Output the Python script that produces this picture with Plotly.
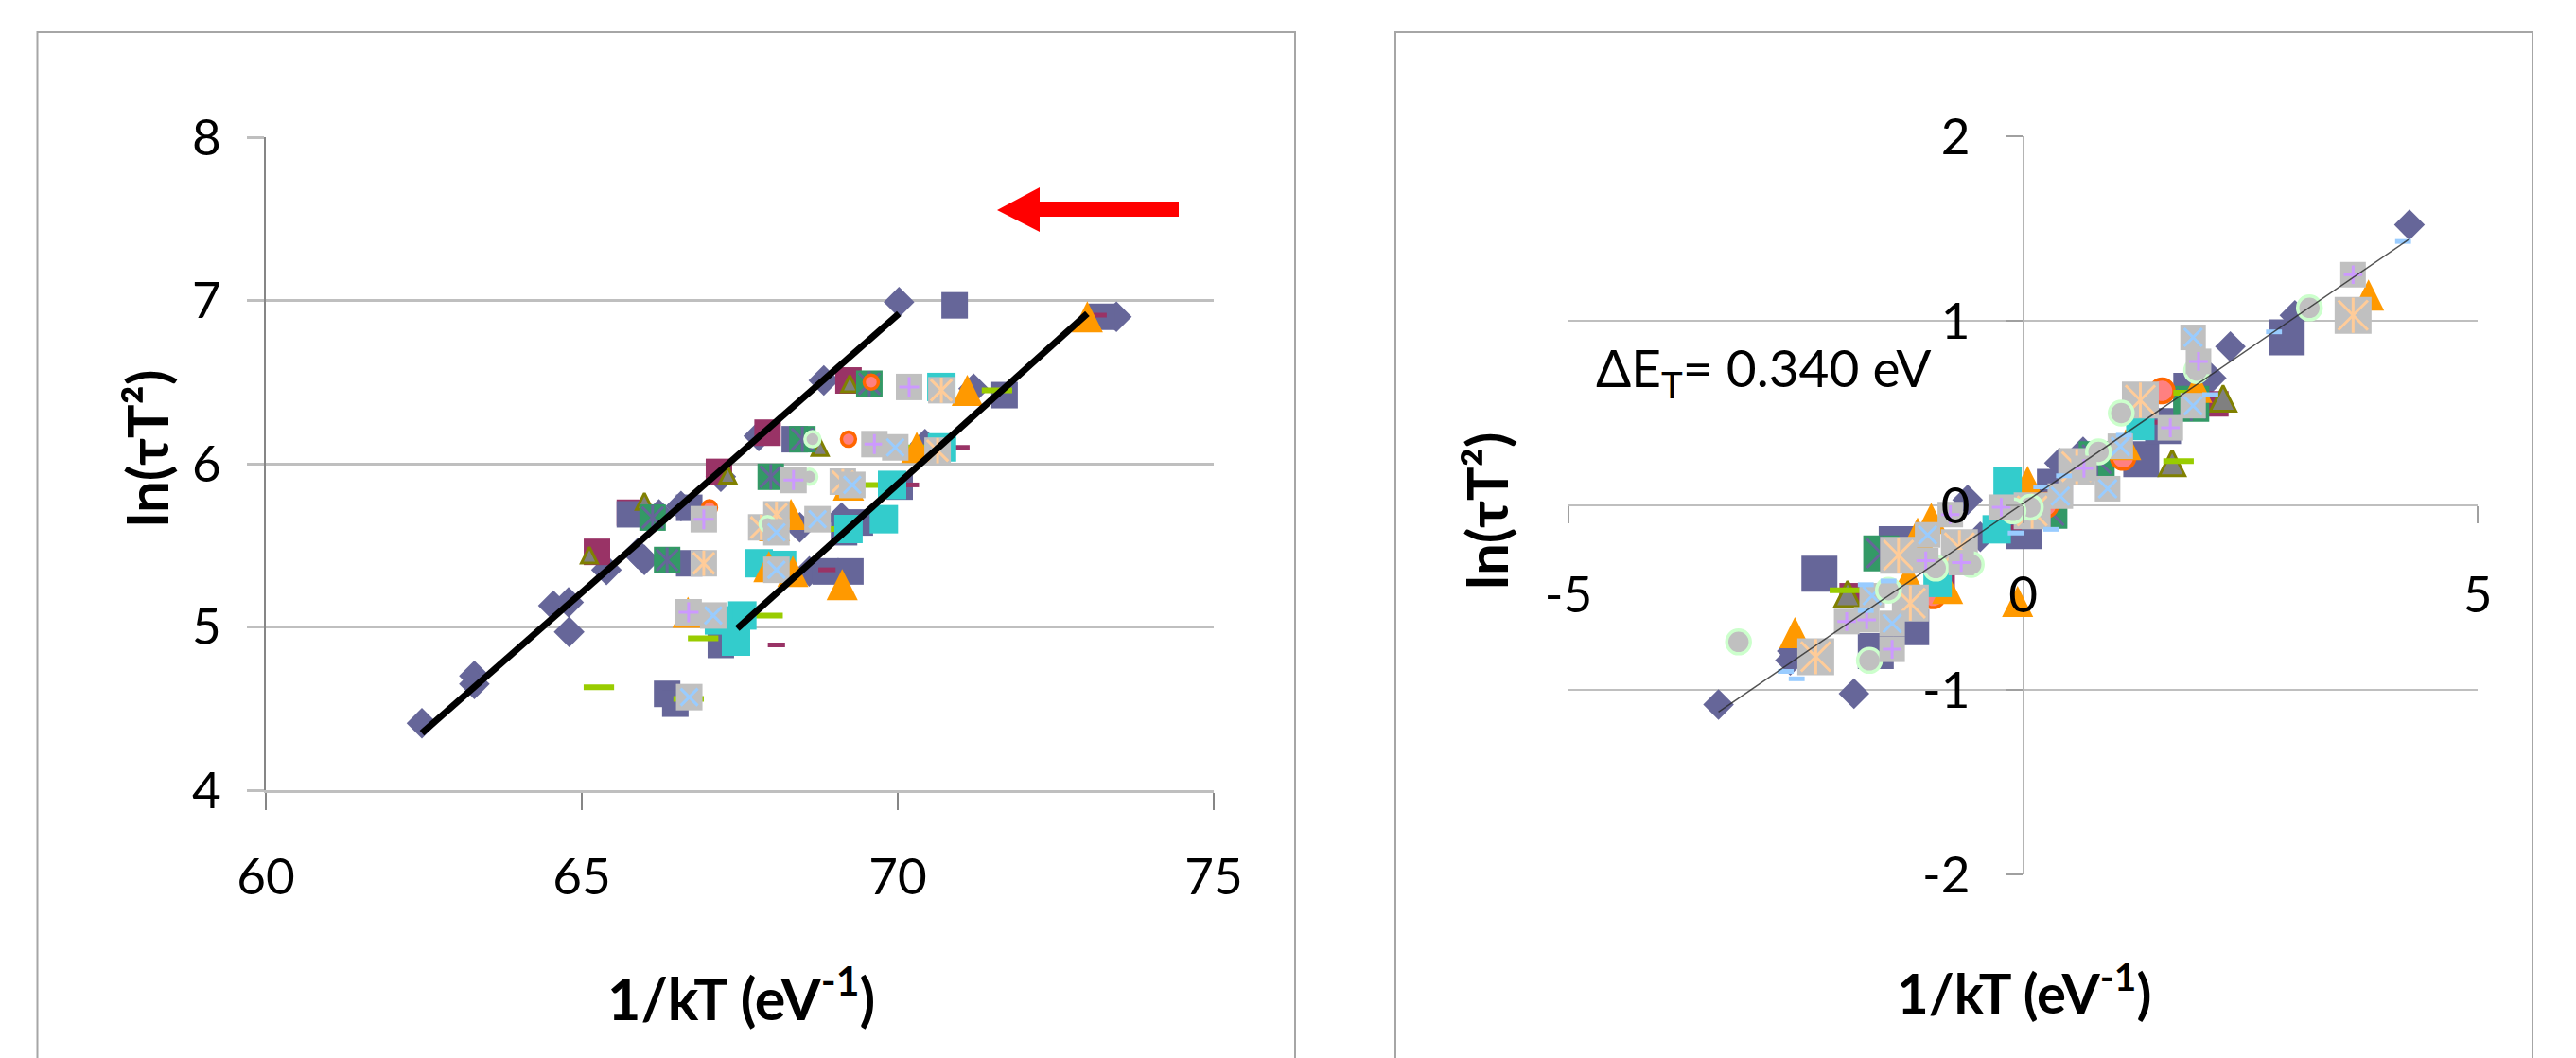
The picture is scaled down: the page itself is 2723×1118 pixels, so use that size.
import plotly.graph_objects as go

W, H = 2723, 1118
FONT = "Lato, Carlito, Calibri, sans-serif"

# ---------- left chart: values ----------
L_DIAMOND_X = [70.02,68.83,67.8,67.2,66.22,66.57,65.88,65.99,65.39,64.55,64.79,64.8,63.3,63.3,62.47,68.45,69.11,70.43,73.46,71.2,68.6]
L_DIAMOND_Y = [6.99,6.51,6.17,5.92,5.69,5.74,5.45,5.41,5.35,5.13,5.15,4.97,4.70,4.65,4.41,5.61,5.67,6.12,6.90,6.46,5.34]
L_NAVY_X = [70.9,73.23,71.69,65.76,66.7,68.37,70.03,69.4,69.15,66.7,68.86,69.25,66.35,66.48,67.2]
L_NAVY_Y = [6.97,6.90,6.42,5.69,5.73,6.15,5.86,5.64,5.58,5.39,5.34,5.34,4.59,4.53,4.89]
L_MAROON_X = [69.22,67.94,67.17,65.76,65.24]
L_MAROON_Y = [6.51,6.19,5.95,5.70,5.46]
L_OLIVE_X = [69.24,67.31,65.99,68.77,65.12]
L_OLIVE_Y = [6.49,5.93,5.77,6.10,5.44]
L_GREEN_X = [69.55,68.49,67.99,66.12,66.35]
L_GREEN_Y = [6.49,6.15,5.92,5.67,5.41]
L_ORCIRC_X = [69.58,69.22,67.02,66.98]
L_ORCIRC_Y = [6.50,6.15,5.73,5.40]
L_GDASH_X = [65.27,66.69,66.92,67.94,69.57,68.97,71.57,70.3]
L_GDASH_Y = [4.63,4.56,4.93,5.07,5.87,5.60,6.45,6.10]
L_MDASH_X = [68.08,70.2,68.88,73.17,71.0]
L_MDASH_Y = [4.89,5.87,5.35,6.91,6.10]
L_CYAN_X = [70.69,70.7,69.91,69.78,69.22,67.8,68.17,67.54,67.17,67.44]
L_CYAN_Y = [6.47,6.10,5.87,5.66,5.60,5.39,5.38,5.07,5.04,4.91]
L_TRI_X = [73.0,71.1,70.3,69.22,68.05,68.31,67.96,68.34,69.12,66.68]
L_TRI_Y = [6.90,6.45,6.10,5.87,5.62,5.69,5.37,5.34,5.26,5.09]
L_AST_X = [70.69,69.13,68.08,67.84,66.93,70.63]
L_AST_Y = [6.45,5.89,5.69,5.61,5.39,6.08]
L_GCIRC_X = [68.65,68.6,67.94]
L_GCIRC_Y = [6.15,5.92,5.63]
L_PLUS_X = [70.18,69.63,68.35,66.93,66.69]
L_PLUS_Y = [6.47,6.12,5.90,5.66,5.09]
L_XS_X = [69.96,69.28,68.73,68.08,68.08,67.08,66.7]
L_XS_Y = [6.10,5.87,5.66,5.58,5.35,5.07,4.57]
L_FIT1_X = [62.47,70.02]
L_FIT1_Y = [4.35,6.92]
L_FIT2_X = [67.46,73.0]
L_FIT2_Y = [4.99,6.92]

# ---------- right chart: values ----------
R_DIAMOND_X = [-3.35,-1.86,-2.56,-2.54,-0.61,-0.47,0.66,0.4,2.28,2.99,2.07,4.25]
R_DIAMOND_Y = [-1.08,-1.02,-0.84,-0.79,0.03,-0.17,0.29,0.23,0.86,1.03,0.69,1.52]
R_NAVY_X = [-2.24,-1.39,-1.23,-1.62,0.01,0.35,1.30,1.85,2.90,1.54]
R_NAVY_Y = [-0.37,-0.21,-0.66,-0.79,-0.14,0.10,0.25,0.62,0.91,0.43]
R_MAROON_X = [-1.88,2.12,-0.89]
R_MAROON_Y = [-0.49,0.55,-0.42]
R_OLIVE_X = [-1.93,1.64,2.2]
R_OLIVE_Y = [-0.48,0.23,0.58]
R_GREEN_X = [-1.56,0.29,0.81,1.85]
R_GREEN_Y = [-0.26,-0.03,0.25,0.55]
R_ORCIRC_X = [-0.99,1.53,1.1,0.25]
R_ORCIRC_Y = [-0.49,0.62,0.26,0.0]
R_GDASH_X = [-1.96,1.71,1.82]
R_GDASH_Y = [-0.46,0.24,0.61]
R_MDASH_X = [-0.11,1.46]
R_MDASH_Y = [-0.12,0.45]
R_TRI_X = [-0.06,-2.51,-1.01,-1.16,-1.26,-0.83,0.05,1.13,1.91,3.80]
R_TRI_Y = [-0.52,-0.69,-0.07,-0.15,-0.39,-0.45,0.13,0.33,0.64,1.14]
R_CYAN_X = [-0.29,-0.17,-0.94,1.29]
R_CYAN_Y = [-0.13,0.13,-0.42,0.43]
R_AST_X = [-2.28,-1.37,-1.24,-0.70,0.10,0.59,1.29,3.63]
R_AST_Y = [-0.82,-0.27,-0.53,-0.23,-0.03,0.21,0.57,1.03]
R_XS_X = [-1.66,-1.44,-1.05,0.41,0.93,1.07,1.87,1.87]
R_XS_Y = [-0.49,-0.64,-0.16,0.05,0.09,0.32,0.54,0.91]
R_GCIRC_X = [-3.13,-1.69,-1.48,-0.96,-0.57,0.08,-0.11,0.83,1.08,1.91,3.15]
R_GCIRC_Y = [-0.74,-0.84,-0.46,-0.34,-0.32,-0.01,-0.03,0.29,0.50,0.73,1.07]
R_PLUS_X = [-1.94,-1.72,-1.44,-1.07,-0.68,-0.80,-0.24,0.67,1.62,1.93,3.63]
R_PLUS_Y = [-0.63,-0.62,-0.78,-0.30,-0.31,-0.05,-0.01,0.20,0.42,0.78,1.25]
R_BDASH_X = [-2.61,-2.49,-1.73,-1.73,-1.48,-0.08,0.31,0.2,0.45,1.11,2.76,2.06,4.18]
R_BDASH_Y = [-0.90,-0.94,-0.43,-0.57,-0.41,-0.15,-0.13,0.10,0.16,0.38,0.94,0.60,1.43]
R_FIT_X = [-3.35,4.24]
R_FIT_Y = [-1.12,1.44]

X_TICKS_L = [60,65,70,75]
Y_TICKS_L = [4,5,6,7,8]
X_TICKS_R = [-5,0,5]
X_LABELS_R = ["-5","0","5"]
Y_TICKS_R = [-2,-1,0,1,2]
Y_LABELS_R = ["-2","-1","0","1","2"]

NAVY, MAROON, GREEN, CYAN = "#666699", "#993366", "#339966", "#33CCCC"
ORANGE, GRAY = "#FF9900", "#C0C0C0"

fig = go.Figure()

def pts(xa, ya, x, y, symbol, size, color, lw=0, lc=None, angle=0, standoff=0):
    fig.add_trace(go.Scatter(x=x, y=y, xaxis=xa, yaxis=ya, mode="markers", showlegend=False,
                             hoverinfo="skip",
                             marker=dict(symbol=symbol, size=size, color=color, angle=angle, standoff=standoff,
                                         line=dict(width=lw, color=lc or color))))

def square_with_asterisk(xa, ya, x, y, side, color, lc, lw):
    pts(xa, ya, x, y, "square", side, color)
    pts(xa, ya, x, y, "x-thin", side*0.8, lc, lw, lc)
    pts(xa, ya, x, y, "line-ns", side*0.68, lc, lw, lc)

def triangle(xa, ya, x, y, size, color, lw=0, lc=None):
    # the arrow symbol is as tall as it is wide; turned and pushed so it is centred on its point
    pts(xa, ya, x, y, "arrow-down", size, color, lw, lc, angle=180, standoff=size/2)

# left chart, bottom to top
a = ("x", "y")
pts(*a, L_DIAMOND_X, L_DIAMOND_Y, "diamond", 25, NAVY)
pts(*a, L_MAROON_X, L_MAROON_Y, "square", 28, MAROON)
pts(*a, L_NAVY_X, L_NAVY_Y, "square", 28, NAVY)
triangle(*a, L_OLIVE_X, L_OLIVE_Y, 17, "#808080", 3, "#808000")
square_with_asterisk(*a, L_GREEN_X, L_GREEN_Y, 28, GREEN, NAVY, 3)
pts(*a, L_ORCIRC_X, L_ORCIRC_Y, "circle", 15, "#FF8080", 3.5, "#FF6600")
pts(*a, L_GDASH_X, L_GDASH_Y, "line-ew", 23, "#99CC00", 6, "#99CC00")
pts(*a, L_MDASH_X, L_MDASH_Y, "line-ew", 13, MAROON, 5, MAROON)
pts(*a, L_CYAN_X, L_CYAN_Y, "square", 30, CYAN)
triangle(*a, L_TRI_X, L_TRI_Y, 33, ORANGE)
square_with_asterisk(*a, L_AST_X, L_AST_Y, 28, GRAY, "#FFCC99", 3)
pts(*a, L_GCIRC_X, L_GCIRC_Y, "circle", 16, GRAY, 3.5, "#CCFFCC")
pts(*a, L_PLUS_X, L_PLUS_Y, "square", 28, GRAY)
pts(*a, L_PLUS_X, L_PLUS_Y, "cross-thin", 15, "#CC99FF", 3, "#CC99FF")
pts(*a, L_XS_X, L_XS_Y, "square", 28, GRAY)
pts(*a, L_XS_X, L_XS_Y, "x-thin", 18, "#99CCFF", 3, "#99CCFF")
for fx, fy in ((L_FIT1_X, L_FIT1_Y), (L_FIT2_X, L_FIT2_Y)):
    fig.add_trace(go.Scatter(x=fx, y=fy, xaxis="x", yaxis="y", mode="lines", showlegend=False,
                             hoverinfo="skip", line=dict(color="#000000", width=7)))

# right chart, bottom to top
b = ("x2", "y2")
pts(*b, R_DIAMOND_X, R_DIAMOND_Y, "diamond", 25, NAVY)
pts(*b, R_NAVY_X, R_NAVY_Y, "square", 38, NAVY)
pts(*b, R_MAROON_X, R_MAROON_Y, "square", 27, MAROON)
triangle(*b, R_OLIVE_X, R_OLIVE_Y, 27, "#808080", 3, "#808000")
square_with_asterisk(*b, R_GREEN_X, R_GREEN_Y, 38, GREEN, NAVY, 3)
pts(*b, R_ORCIRC_X, R_ORCIRC_Y, "circle", 25, "#FF8080", 3.5, "#FF6600")
pts(*b, R_GDASH_X, R_GDASH_Y, "line-ew", 23, "#99CC00", 6, "#99CC00")
pts(*b, R_MDASH_X, R_MDASH_Y, "line-ew", 13, MAROON, 5, MAROON)
triangle(*b, R_TRI_X, R_TRI_Y, 33, ORANGE)
pts(*b, R_CYAN_X, R_CYAN_Y, "square", 30, CYAN)
square_with_asterisk(*b, R_AST_X, R_AST_Y, 39, GRAY, "#FFCC99", 3)
pts(*b, R_XS_X, R_XS_Y, "square", 27, GRAY)
pts(*b, R_XS_X, R_XS_Y, "x-thin", 19, "#99CCFF", 3, "#99CCFF")
pts(*b, R_GCIRC_X, R_GCIRC_Y, "circle", 25, GRAY, 3.5, "#CCFFCC")
pts(*b, R_PLUS_X, R_PLUS_Y, "square", 27, GRAY)
pts(*b, R_PLUS_X, R_PLUS_Y, "cross-thin", 14, "#CC99FF", 3, "#CC99FF")
pts(*b, R_BDASH_X, R_BDASH_Y, "line-ew", 12, "#99CCFF", 5, "#99CCFF")
fig.add_trace(go.Scatter(x=R_FIT_X, y=R_FIT_Y, xaxis="x2", yaxis="y2", mode="lines", showlegend=False,
                         hoverinfo="skip", line=dict(color="rgba(40,40,40,0.8)", width=1.5)))

px = lambda v: v / W
py = lambda v: 1 - v / H
tickfont = dict(family=FONT, size=53, color="#000000")
GRID = "#BFBFBF"
LINE = "#868686"

layout = dict(
    width=W, height=H, margin=dict(l=0, r=0, t=0, b=0, autoexpand=False), autosize=False,
    paper_bgcolor="white", plot_bgcolor="rgba(0,0,0,0)",
    showlegend=False,
    font=dict(family=FONT, color="#000000"),
    xaxis=dict(domain=[px(281), px(1283)], range=[60, 75], anchor="y", tickvals=X_TICKS_L,
               ticks="outside", ticklen=18, tickwidth=1.5, tickcolor=LINE, showgrid=False, zeroline=False,
               showline=True, linecolor=GRID, linewidth=2.5, tickfont=tickfont, ticklabelstandoff=26),
    yaxis=dict(domain=[py(835), py(145)], range=[4, 8], anchor="x", tickvals=Y_TICKS_L,
               ticks="outside", ticklen=18, tickwidth=2.5, tickcolor=GRID, showgrid=True, gridcolor=GRID,
               gridwidth=2.5, zeroline=False, showline=True, linecolor=LINE, linewidth=1.5,
               tickfont=tickfont, ticklabelstandoff=17),
    xaxis2=dict(domain=[px(1658), px(2619)], range=[-5, 5], anchor="free", position=py(534),
                tickvals=X_TICKS_R, ticktext=X_LABELS_R, ticks="outside", ticklen=18, tickwidth=1.5,
                tickcolor="#A0A0A0",
                showgrid=False, zeroline=True, zerolinecolor="#B4B4B4", zerolinewidth=2,
                showline=False, tickfont=tickfont, ticklabelstandoff=30),
    yaxis2=dict(domain=[py(924), py(144)], range=[-2, 2], anchor="free", position=px(2138),
                tickvals=Y_TICKS_R, ticktext=Y_LABELS_R, ticks="outside", ticklen=18, tickwidth=1.5,
                tickcolor="#A0A0A0",
                showgrid=True, gridcolor=GRID, gridwidth=2, zeroline=True, zerolinecolor=GRID, zerolinewidth=2,
                showline=False, tickfont=tickfont, ticklabelstandoff=27),
    shapes=[
        dict(type="rect", xref="paper", yref="paper", x0=px(39.5), x1=px(1369), y0=-0.1, y1=py(34),
             line=dict(color="#A6A6A6", width=2), layer="below"),
        dict(type="rect", xref="paper", yref="paper", x0=px(1475), x1=px(2677), y0=-0.1, y1=py(34),
             line=dict(color="#A6A6A6", width=2), layer="below"),
        dict(type="path", xref="paper", yref="paper", fillcolor="#FF0000", line=dict(width=0),
             path=f"M {px(1246)} {py(213)} L {px(1099)} {py(213)} L {px(1099)} {py(198)} L {px(1054)} {py(222)} "
                  f"L {px(1099)} {py(245)} L {px(1099)} {py(229)} L {px(1246)} {py(229)} Z"),
    ],
    annotations=[
        dict(text="<b>1/kT (eV<sup>-1</sup>)</b>", xref="paper", yref="paper", x=px(783), y=py(1050),
             showarrow=False, font=dict(family=FONT, size=61), xanchor="center", yanchor="middle"),
        dict(text="<b>1/kT (eV<sup>-1</sup>)</b>", xref="paper", yref="paper", x=px(2139), y=py(1045),
             showarrow=False, font=dict(family=FONT, size=58), xanchor="center", yanchor="middle"),
        dict(text="<b>ln(τT²)</b>", xref="paper", yref="paper", x=px(155), y=py(474), textangle=-90,
             showarrow=False, font=dict(family=FONT, size=60), xanchor="center", yanchor="middle"),
        dict(text="<b>ln(τT²)</b>", xref="paper", yref="paper", x=px(1571), y=py(540), textangle=-90,
             showarrow=False, font=dict(family=FONT, size=60), xanchor="center", yanchor="middle"),
        dict(text="ΔE<sub>T</sub>= 0.340 eV", xref="paper", yref="paper", x=px(1864), y=py(392),
             showarrow=False, font=dict(family=FONT, size=55), xanchor="center", yanchor="middle"),
    ],
)
fig.update_layout(**layout)
fig.write_html("out.html", post_script="document.body.style.margin='0';", config=dict(displayModeBar=False))
